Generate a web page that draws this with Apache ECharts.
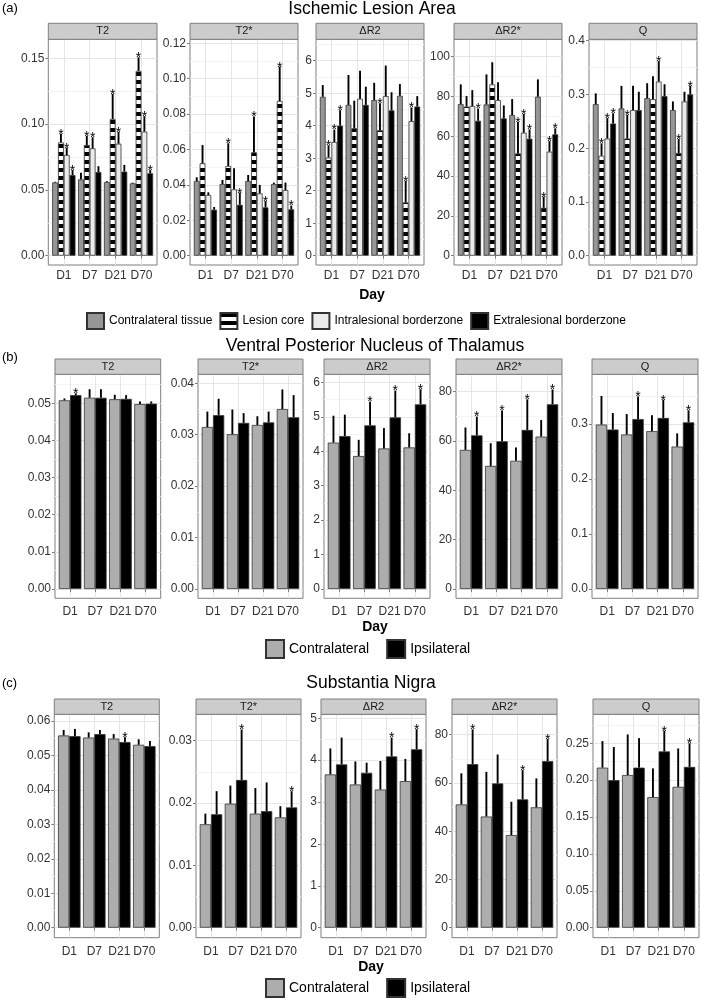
<!DOCTYPE html>
<html><head><meta charset="utf-8">
<script src="https://cdn.jsdelivr.net/npm/echarts@6/dist/echarts.min.js"></script>
<style>html,body{margin:0;padding:0;background:#fff}#main{width:701px;height:999px}</style>
</head><body><div id="main"></div>
<script>
// ---------------- categories / labels ----------------
const days = ['D1', 'D7', 'D21', 'D70'];
const metrics = ['T2', 'T2*', 'ΔR2', 'ΔR2*', 'Q'];
const panelTitles = ['Ischemic Lesion Area', 'Ventral Posterior Nucleus of Thalamus', 'Substantia Nigra'];
const panelLetters = ['(a)', '(b)', '(c)'];
const groupsA = ['Contralateral tissue', 'Lesion core', 'Intralesional borderzone', 'Extralesional borderzone'];
const groupsBC = ['Contralateral', 'Ipsilateral'];

// ---------------- tick labels (per metric) ----------------
const ticksA = [['0.00','0.05','0.10','0.15'], ['0.00','0.02','0.04','0.06','0.08','0.10','0.12'], ['0','1','2','3','4','5','6'], ['0','20','40','60','80','100'], ['0.0','0.1','0.2','0.3','0.4']];
const ticksB = [['0.00','0.01','0.02','0.03','0.04','0.05'], ['0.00','0.01','0.02','0.03','0.04'], ['0','1','2','3','4','5','6'], ['0','20','40','60','80'], ['0.0','0.1','0.2','0.3']];
const ticksC = [['0.00','0.01','0.02','0.03','0.04','0.05','0.06'], ['0.00','0.01','0.02','0.03'], ['0','1','2','3','4','5'], ['0','20','40','60','80'], ['0.00','0.05','0.10','0.15','0.20','0.25']];

// ---------------- (a) Ischemic lesion area: mean, SE, significance; rows = T2, T2*, ΔR2, ΔR2*, Q ----------------
const aContraMean = [[0.0557,0.0580,0.0560,0.0550],[0.0422,0.0405,0.0422,0.0405],[4.89,4.64,4.79,4.92],[76.2,76.0,70.7,79.9],[0.282,0.274,0.293,0.271]];
const aContraSE   = [[0.0005,0.0050,0.0006,0.0005],[0.0021,0.0023,0.0034,0.0008],[0.36,0.92,0.53,0.36],[9.9,15.1,8.0,8.7],[0.020,0.042,0.028,0.016]];
const aContraSig  = [[0,0,0,0],[0,0,0,0],[0,0,0,0],[0,0,0,0],[0,0,0,0]];
const aCoreMean = [[0.0861,0.0841,0.1039,0.1404],[0.0522,0.0507,0.0584,0.0874],[3.02,3.92,3.86,1.64],[74.9,86.1,51.4,24.1],[0.186,0.218,0.291,0.191]];
const aCoreSE   = [[0.0064,0.0069,0.0190,0.0104],[0.0103,0.0128,0.0202,0.0194],[0.38,0.85,0.83,0.66],[5.3,11.1,15.8,5.5],[0.023,0.044,0.043,0.026]];
const aCoreSig  = [[1,1,1,1],[0,1,1,1],[1,0,1,1],[0,0,1,1],[1,1,0,1]];
const aIntraMean = [[0.0765,0.0816,0.0851,0.0943],[0.0343,0.0375,0.0352,0.0371],[3.50,4.83,4.91,4.14],[75.2,78.2,61.8,52.3],[0.218,0.271,0.324,0.287]];
const aIntraSE   = [[0.0055,0.0084,0.0089,0.0117],[0.0015,0.0119,0.0048,0.0042],[0.38,0.86,0.94,0.42],[8.0,8.9,9.4,5.3],[0.038,0.045,0.038,0.018]];
const aIntraSig  = [[1,1,1,1],[0,0,0,0],[1,0,0,1],[0,0,1,1],[1,0,1,0]];
const aExtraMean = [[0.0613,0.0636,0.0639,0.0626],[0.0260,0.0288,0.0273,0.0262],[4.00,4.64,4.47,4.59],[67.8,69.0,58.8,61.0],[0.246,0.271,0.297,0.300]];
const aExtraSE   = [[0.0038,0.0044,0.0051,0.0024],[0.0015,0.0068,0.0036,0.0021],[0.48,0.56,0.56,0.32],[6.2,6.5,4.7,3.0],[0.019,0.034,0.022,0.016]];
const aExtraSig  = [[1,0,0,1],[0,1,1,1],[1,0,0,0],[1,0,1,1],[1,0,0,1]];

// ---------------- (b) Ventral posterior nucleus of thalamus ----------------
const bContraMean = [[0.0508,0.0515,0.0511,0.0498],[0.0315,0.0301,0.0319,0.0350],[4.25,3.86,4.08,4.11],[56.4,49.9,52.0,61.8],[0.299,0.281,0.287,0.259]];
const bContraSE   = [[0.0005,0.0023,0.0012,0.0007],[0.0030,0.0048,0.0017,0.0038],[0.78,0.47,0.59,0.41],[9.1,9.2,5.4,6.7],[0.052,0.037,0.029,0.024]];
const bContraSig  = [[0,0,0,0],[0,0,0,0],[0,0,0,0],[0,0,0,0],[0,0,0,0]];
const bIpsiMean = [[0.0522,0.0515,0.0512,0.0499],[0.0338,0.0323,0.0324,0.0334],[4.44,4.75,4.98,5.36],[62.3,59.9,64.5,74.9],[0.290,0.309,0.311,0.303]];
const bIpsiSE   = [[0.0005,0.0023,0.0010,0.0006],[0.0032,0.0019,0.0021,0.0043],[0.62,0.69,0.78,0.44],[7.6,12.5,12.4,6.0],[0.030,0.041,0.033,0.022]];
const bIpsiSig  = [[1,0,0,0],[0,0,0,0],[0,1,1,1],[1,1,1,1],[0,1,1,1]];

// ---------------- (c) Substantia nigra ----------------
const cContraMean = [[0.0558,0.0552,0.0549,0.0531],[0.0166,0.0199,0.0183,0.0177],[3.66,3.42,3.30,3.50],[51.1,46.1,38.4,49.9],[0.217,0.207,0.177,0.191]];
const cContraSE   = [[0.0016,0.0015,0.0013,0.0016],[0.0017,0.0029,0.0041,0.0018],[0.62,0.55,0.68,0.53],[12.9,18.5,13.8,12.0],[0.036,0.055,0.039,0.052]];
const cContraSig  = [[0,0,0,0],[0,0,0,0],[0,0,0,0],[0,0,0,0],[0,0,0,0]];
const cIpsiMean = [[0.0556,0.0562,0.0539,0.0527],[0.0182,0.0237,0.0187,0.0193],[3.90,3.70,4.09,4.26],[67.8,59.8,53.2,69.1],[0.200,0.217,0.239,0.218]];
const cIpsiSE   = [[0.0021,0.0012,0.0014,0.0015],[0.0037,0.0081,0.0046,0.0026],[0.64,0.24,0.45,0.48],[14.4,12.0,12.1,9.1],[0.045,0.040,0.028,0.032]];
const cIpsiSig  = [[0,0,1,0],[0,1,0,1],[0,0,1,1],[1,0,1,1],[0,0,1,1]];

// ---------------- styling / layout ----------------
const FONT = 'Liberation Sans, Arial, Helvetica, sans-serif';
function stripePattern() {
  const c = document.createElement('canvas');
  c.width = 8; c.height = 8;
  const g = c.getContext('2d');
  g.fillStyle = '#ffffff'; g.fillRect(0, 0, 8, 8);
  g.fillStyle = '#000000'; g.fillRect(0, 0, 8, 4);
  return { image: c, repeat: 'repeat' };
}
const colorsA = ['#969696', stripePattern(), '#EBEBEB', '#000000'];
const colorsBC = ['#ADADAD', '#000000'];

const rows = [
  { groups: groupsA, colors: colorsA, ticks: ticksA,
    series: [[aContraMean,aContraSE,aContraSig],[aCoreMean,aCoreSE,aCoreSig],[aIntraMean,aIntraSE,aIntraSig],[aExtraMean,aExtraSE,aExtraSig]],
    panels: [[48.3,157],[190,298],[316,424],[454,562],[589,697]],
    stripTop: 23.3, top: 39.3, bottom: 265, zero: 255.7, refPx: [58.3,43.3,60.7,56.7,40.7],
    titleX: 372, titleY: 9.5, letterY: 8.5, labelMargin: 5, dayY: 295,
    legend: { left: 86, top: 312, w: 17, h: 16, gap: 7, fs: 12 } },
  { groups: groupsBC, colors: colorsBC, ticks: ticksB,
    series: [[bContraMean,bContraSE,bContraSig],[bIpsiMean,bIpsiSE,bIpsiSig]],
    panels: [[55,160.7],[198,303],[324,430],[456,562],[592,698]],
    stripTop: 359, top: 374.3, bottom: 598.3, zero: 589, refPx: [403.3,383.3,382.3,391.7,424],
    titleX: 375, titleY: 346, letterY: 358, labelMargin: 7, dayY: 627,
    legend: { left: 265, top: 639, w: 18, h: 18, gap: 17, fs: 14 } },
  { groups: groupsBC, colors: colorsBC, ticks: ticksC,
    series: [[cContraMean,cContraSE,cContraSig],[cIpsiMean,cIpsiSE,cIpsiSig]],
    panels: [[54.3,159.3],[196,301],[321,426],[452,557],[593,699]],
    stripTop: 699, top: 714.3, bottom: 937.7, zero: 927.7, refPx: [721,740.7,718.3,734.7,743.3],
    titleX: 371, titleY: 683, letterY: 684, labelMargin: 7.5, dayY: 967,
    legend: { left: 265, top: 978, w: 18, h: 18, gap: 17, fs: 14 } }
];

const grids = [], xAxes = [], yAxes = [], series = [], graphics = [], legends = [];

rows.forEach((row, r) => {
  graphics.push({ type: 'text', left: 2, top: row.letterY - 7, style: { text: panelLetters[r], fontSize: 13, fontFamily: FONT, fill: '#000' } });
  graphics.push({ type: 'text', x: row.titleX, y: row.titleY, style: { text: panelTitles[r], fontSize: 17.5, fontFamily: FONT, fill: '#000', align: 'center', verticalAlign: 'middle' } });
  graphics.push({ type: 'text', x: row.titleX, y: row.dayY, style: { text: 'Day', fontSize: 14, fontWeight: 'bold', fontFamily: FONT, fill: '#000', align: 'center', verticalAlign: 'middle' } });

  row.panels.forEach((p, f) => {
    const x0 = p[0], w = p[1] - p[0];
    const majors = row.ticks[f].map(Number);
    const topVal = majors[majors.length - 1];
    const ppu = (row.zero - row.refPx[f]) / topVal;
    const yMax = (row.zero - row.top) / ppu;
    const yMin = -(row.bottom - row.zero) / ppu;
    const step = majors[1] - majors[0];
    const minors = [];
    for (let v = majors[0] + step / 2; v < yMax; v += step) minors.push(+v.toFixed(6));
    const labels = row.ticks[f];

    // strip
    graphics.push({ type: 'rect', shape: { x: x0, y: row.stripTop, width: w, height: row.top - row.stripTop }, style: { fill: '#CCCCCC', stroke: '#7F7F7F', lineWidth: 1 }, z: 10 });
    graphics.push({ type: 'text', x: x0 + w / 2, y: (row.stripTop + row.top) / 2, style: { text: metrics[f], fontSize: 11, fontFamily: FONT, fill: '#1A1A1A', align: 'center', verticalAlign: 'middle' }, z: 11 });

    // panel grid (frame, gridlines, axis labels)
    const gP = grids.length;
    grids.push({ left: x0, top: row.top, width: w, height: row.bottom - row.top, show: true, backgroundColor: '#fff', borderColor: '#7F7F7F', borderWidth: 1 });
    // inner grid for the dodged bars (discrete axis expansion 0.6 units each side)
    const gI = grids.length;
    grids.push({ left: x0 + w * 0.1 / 4.2, top: row.top, width: w * 4 / 4.2, height: row.bottom - row.top, show: false });

    xAxes.push({ gridIndex: gP, type: 'value', min: 0.4, max: 4.6,
      axisLine: { show: false },
      axisTick: { show: true, length: 3, customValues: [1,2,3,4], lineStyle: { color: '#7F7F7F' } },
      axisLabel: { customValues: [1,2,3,4], formatter: v => days[Math.round(v) - 1], fontSize: 12, fontFamily: FONT, color: '#333333', margin: row.labelMargin },
      splitLine: { show: true, lineStyle: { color: '#E5E5E5', width: 1 } } });
    const xI = xAxes.length;
    xAxes.push({ gridIndex: gI, type: 'category', data: days, show: false });

    yAxes.push({ gridIndex: gP, type: 'value', min: yMin, max: yMax, position: 'left',
      axisLine: { show: false }, axisLabel: { show: false },
      axisTick: { show: false, customValues: minors },
      splitLine: { show: true, lineStyle: { color: '#F4F4F4', width: 1 } } });
    yAxes.push({ gridIndex: gP, type: 'value', min: yMin, max: yMax, position: 'left',
      axisLine: { show: false },
      axisTick: { show: true, length: 3, customValues: majors, lineStyle: { color: '#7F7F7F' } },
      axisLabel: { customValues: majors, formatter: v => { const i = majors.findIndex(m => Math.abs(m - v) < 1e-9); return i >= 0 ? labels[i] : ''; }, fontSize: 12, fontFamily: FONT, color: '#333333', margin: 4 },
      splitLine: { show: true, lineStyle: { color: '#E5E5E5', width: 1 } } });
    const yI = yAxes.length;
    yAxes.push({ gridIndex: gI, type: 'value', min: yMin, max: yMax, show: false, splitLine: { show: false } });

    const n = row.groups.length;
    row.series.forEach((s, k) => {
      const mean = s[0][f], se = s[1][f], sig = s[2][f];
      series.push({ type: 'bar', name: row.groups[k], xAxisIndex: xI, yAxisIndex: yI,
        data: mean, barGap: '0%', barCategoryGap: '10%', silent: true,
        itemStyle: { color: row.colors[k], borderColor: '#333333', borderWidth: 0.8 } });
      series.push({ type: 'custom', name: 'err', xAxisIndex: xI, yAxisIndex: yI, silent: true, z: 5,
        encode: { x: 0, y: 1 },
        data: days.map((d, i) => [i, mean[i], se[i], sig[i]]),
        renderItem: (params, api) => {
          const ci = api.value(0), m = api.value(1), e = api.value(2), sg = api.value(3);
          const base = api.coord([ci, m]);
          const top = api.coord([ci, m + e]);
          const band = api.size([1, 0])[0];
          const bw = band * 0.9 / n;
          const x = base[0] + (k - (n - 1) / 2) * bw;
          const children = [{ type: 'line', shape: { x1: x, y1: base[1], x2: x, y2: top[1] }, style: { stroke: '#000', lineWidth: 1.9 } }];
          if (sg) children.push({ type: 'text', style: { text: '*', x: x, y: top[1] + 8, align: 'center', verticalAlign: 'bottom', fontSize: 14, fontFamily: FONT, fill: '#000' } });
          return { type: 'group', children };
        } });
    });
  });

  legends.push({ data: row.groups.map(g => ({ name: g })), left: row.legend.left, top: row.legend.top, padding: 0,
    itemWidth: row.legend.w, itemHeight: row.legend.h, itemGap: row.legend.gap, icon: 'rect', selectedMode: false,
    textStyle: { fontSize: row.legend.fs, fontFamily: FONT, color: '#000' } });
});

const chart = echarts.init(document.getElementById('main'), null, { renderer: 'canvas' });
chart.setOption({
  animation: false,
  backgroundColor: '#ffffff',
  textStyle: { fontFamily: FONT },
  grid: grids, xAxis: xAxes, yAxis: yAxes, series: series, legend: legends,
  graphic: { elements: graphics }
});
</script></body></html>
